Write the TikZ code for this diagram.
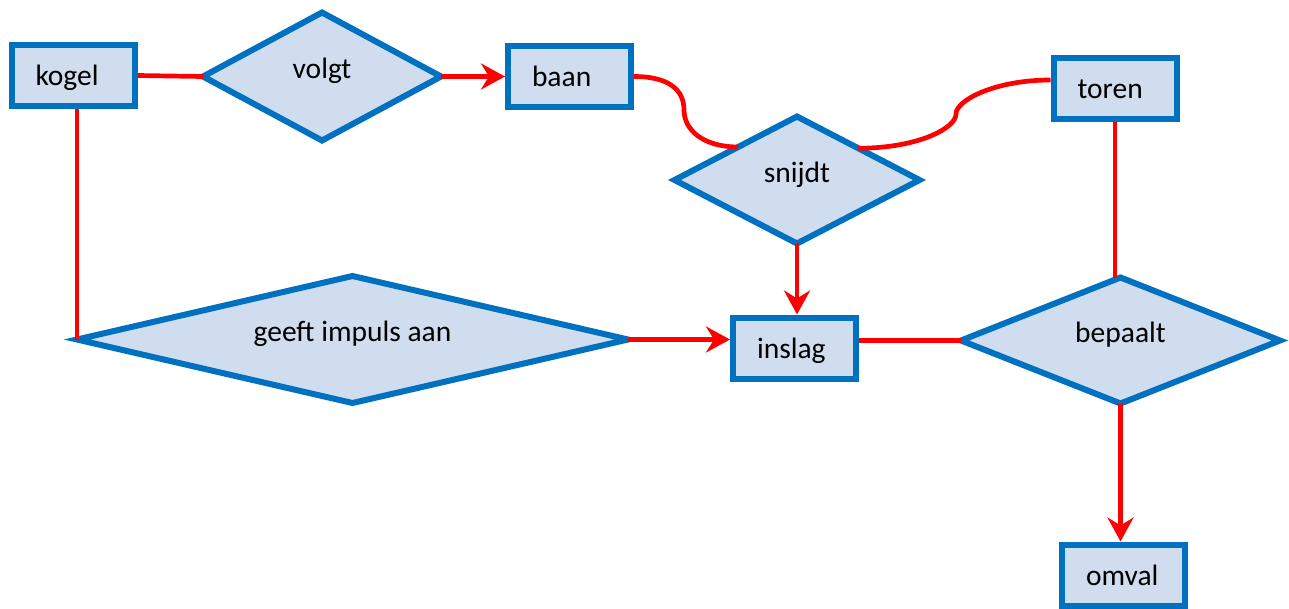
\documentclass[tikz,border=0pt]{standalone}
\usepackage{fontspec}
\setmainfont{Carlito}
\usetikzlibrary{shapes.geometric,arrows.meta,calc}
\definecolor{eblue}{HTML}{0070C0}
\definecolor{efill}{HTML}{CFDDEE}
\definecolor{ered}{HTML}{FF0000}
\begin{document}
\begin{tikzpicture}[x=1pt,y=-1pt,
  ent/.style={rectangle, draw=eblue, fill=efill, line width=6pt,
    minimum height=61pt, inner xsep=24pt, inner ysep=0pt,
    text width=75pt, align=left, font=\fontsize{29.5}{31}\selectfont,
    text height=20pt, text depth=0pt},
  rel/.style={diamond, draw=eblue, fill=efill, line width=6pt,
    inner sep=0pt, outer sep=0pt, font=\fontsize{29.5}{31}\selectfont,
    text height=12pt, text depth=8pt},
  con/.style={draw=ered, line width=4.7pt},
  arr/.style={con, -{Stealth[length=24pt,width=26pt,inset=8pt]}},
]
\useasboundingbox (0,0) rectangle (1289,608);

% entities
\node[ent] (kogel)  at (73,75.5)    {kogel};
\node[ent] (baan)   at (569.5,76.5) {baan};
\node[ent] (toren)  at (1115,88)    {toren};
\node[ent] (inslag) at (794.5,348)  {inslag};
\node[ent] (omval)  at (1123.5,575) {omval};

% relations
\node[rel, aspect=1.8, minimum width=238pt, minimum height=128pt] (volgt)   at (322,76.5)   {volgt};
\node[rel, aspect=1.9, minimum width=245pt, minimum height=127pt] (snijdt)  at (797,180)    {snijdt};
\node[rel, aspect=4.3, minimum width=551pt, minimum height=127pt] (geeft)   at (352.5,339.5) {geeft impuls aan};
\node[rel, aspect=2.5, minimum width=319pt, minimum height=126pt] (bepaalt) at (1120.5,340.5) {bepaalt};

% connectors
\draw[con] (kogel.east) -- (volgt.west);
\draw[arr] (volgt.east) -- (volgt.east -| baan.west);
\coordinate (m1) at (684,110);
\coordinate (m2) at (956,114);
\coordinate (s1) at ($(snijdt.north)!0.48!(snijdt.west)$);
\coordinate (s2) at ($(snijdt.north)!0.50!(snijdt.east)$);
\coordinate (t1) at ($(toren.west)+(0,-8)$);
\draw[con] (baan.east) .. controls +(35,0) and +(0,-20) .. (m1)
                       .. controls +(0,20) and +(-35,0) .. (s1);
\draw[con] (s2) .. controls +(60,0) and +(0,14) .. (m2)
                .. controls +(0,-14) and +(-55,0) .. (t1);
\draw[con] (geeft.west |- kogel.south) -- (geeft.west);
\draw[arr] (geeft.east) -- (geeft.east -| inslag.west);
\draw[arr] (snijdt.south) -- (snijdt.south |- inslag.north);
\draw[con] (inslag.east |- bepaalt.west) -- (bepaalt.west);
\draw[con] (toren.south) -- (toren.south |- bepaalt.north);
\draw[arr] (bepaalt.south) -- (bepaalt.south |- omval.north);
\end{tikzpicture}
\end{document}
